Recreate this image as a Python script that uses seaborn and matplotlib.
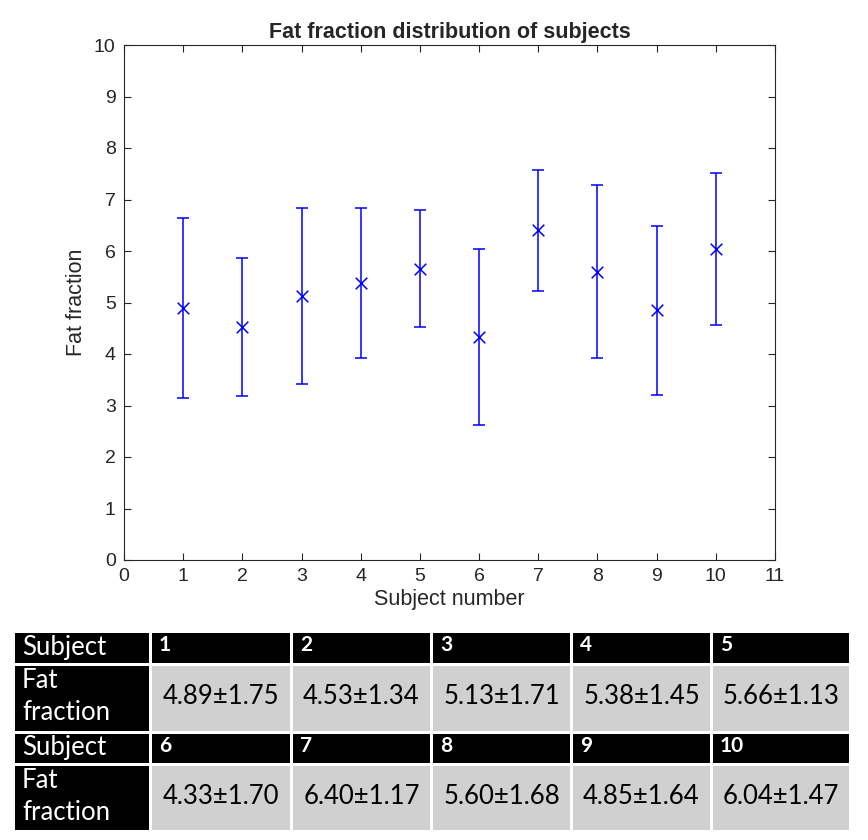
import seaborn as sns
import matplotlib.pyplot as plt
from matplotlib.patches import Rectangle

# data
subjects = [1, 2, 3, 4, 5, 6, 7, 8, 9, 10]
fat_mean = [4.89, 4.53, 5.13, 5.38, 5.66, 4.33, 6.40, 5.60, 4.85, 6.04]
fat_sd = [1.75, 1.34, 1.71, 1.45, 1.13, 1.70, 1.17, 1.68, 1.64, 1.47]

sns.set_style("ticks")
plt.rcParams['font.family'] = ['Liberation Sans', 'DejaVu Sans']

fig = plt.figure(figsize=(8.68, 8.4), dpi=100)
ax = fig.add_axes([124 / 868, 1 - 560 / 840, 651 / 868, 515 / 840])

ax.errorbar(subjects, fat_mean, yerr=fat_sd, fmt='none', ecolor='#0000ff',
            elinewidth=1.1, capsize=4.5, capthick=1.1)
sns.scatterplot(x=subjects, y=fat_mean, marker='x', color='#0000ff', s=70,
                linewidth=1.1, ax=ax, zorder=3)

ax.set_xlim(0, 11)
ax.set_ylim(0, 10)
ax.set_xticks(range(0, 12))
ax.set_yticks(range(0, 11))
ax.tick_params(direction='in', top=True, right=True, length=5, width=0.8,
               labelsize=14, colors='#262626', pad=6)
for side in ax.spines.values():
    side.set_visible(True)
    side.set_color('#262626')
    side.set_linewidth(0.8)
ax.set_title('Fat fraction distribution of subjects', fontsize=15.5,
             fontweight='bold', pad=5)
ax.set_xlabel('Subject number', fontsize=15.5, color='#262626', labelpad=3)
ax.set_ylabel('Fat fraction', fontsize=15.5, color='#262626', labelpad=5)

# summary table under the chart
W, H = 868, 840
col_x = [15, 152, 293, 433, 573, 713, 852]
row_y = [630, 663, 731, 763, 830]
tfont = ['Lato', 'DejaVu Sans']


def cell(x0, x1, y0, y1, color):
    fig.patches.append(Rectangle((x0 / W, 1 - y1 / H), (x1 - x0 - 3) / W,
                                 (y1 - y0 - 3) / H, transform=fig.transFigure,
                                 facecolor=color, edgecolor='none'))


for block in range(2):
    y_head, y_body, y_end = row_y[2 * block], row_y[2 * block + 1], row_y[2 * block + 2]
    for c in range(6):
        cell(col_x[c], col_x[c + 1], y_head, y_body, 'black')
        cell(col_x[c], col_x[c + 1], y_body, y_end, 'black' if c == 0 else '#d0d0d0')
    fig.text((col_x[0] + 7) / W, 1 - (y_head + 17) / H, 'Subject', color='white',
             fontsize=18.5, va='center', family=tfont)
    fig.text((col_x[0] + 7) / W, 1 - (y_body + 33) / H, 'Fat\nfraction', color='white',
             fontsize=18.5, va='center', family=tfont, linespacing=1.35)
    for c in range(5):
        i = block * 5 + c
        fig.text((col_x[c + 1] + 7) / W, 1 - (y_head + 15) / H, str(subjects[i]),
                 color='white', fontsize=15, fontweight='bold', va='center', family=tfont)
        fig.text((col_x[c + 1] + col_x[c + 2] - 3) / 2 / W, 1 - (y_body + 34) / H,
                 f"{fat_mean[i]:.2f}±{fat_sd[i]:.2f}", color='black', fontsize=18.5,
                 ha='center', va='center', family=tfont)

fig.savefig('out.png', dpi=100, facecolor='white')
